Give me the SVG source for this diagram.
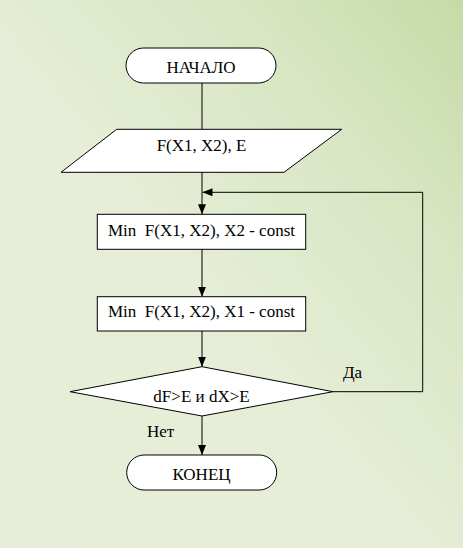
<svg xmlns="http://www.w3.org/2000/svg" width="463" height="548" viewBox="0 0 463 548">
  <defs>
    <linearGradient id="bg" x1="0" y1="1" x2="1" y2="0">
      <stop offset="0" stop-color="#e6eed9"/>
      <stop offset="0.45" stop-color="#e6eed7"/>
      <stop offset="0.75" stop-color="#d8e6c3"/>
      <stop offset="1" stop-color="#c6daa7"/>
    </linearGradient>
    <marker id="arrow" markerUnits="userSpaceOnUse" markerWidth="10" markerHeight="8" refX="10" refY="4" orient="auto">
      <path d="M0,0 L10,4 L0,8 z" fill="#000"/>
    </marker>
    <style>
      .shape { fill: #ffffff; stroke: #000000; stroke-width: 1; }
      .conn { fill: none; stroke: #000000; stroke-width: 1; }
      .txt { font-family: "Liberation Serif", "Times New Roman", "DejaVu Serif", serif; font-size: 17px; fill: #000000; }
    </style>
  </defs>
  <rect x="0" y="0" width="463" height="548" fill="url(#bg)"/>

  <g id="connectors">
    <line class="conn" x1="202" y1="83" x2="202" y2="129.3"/>
    <line class="conn" x1="202" y1="172.3" x2="202" y2="214.3" marker-end="url(#arrow)"/>
    <line class="conn" x1="202" y1="249.3" x2="202" y2="296.7" marker-end="url(#arrow)"/>
    <line class="conn" x1="202" y1="331" x2="202" y2="366.7" marker-end="url(#arrow)"/>
    <line class="conn" x1="202" y1="416" x2="202" y2="455" marker-end="url(#arrow)"/>
    <polyline class="conn" points="333,391.7 422.7,391.7 422.7,192.3 202.5,192.3" marker-end="url(#arrow)"/>
    <text class="txt" x="343" y="378">Да</text>
    <text class="txt" x="147" y="437.3">Нет</text>
  </g>

  <g id="start">
    <rect class="shape" x="126" y="48" width="150" height="35" rx="17.5" ry="17.5"/>
    <text class="txt" x="201" y="73.3" text-anchor="middle">НАЧАЛО</text>
  </g>

  <g id="input">
    <polygon class="shape" points="116.7,129.3 341.7,129.3 284,172.3 61,172.3"/>
    <text class="txt" x="201.5" y="151" text-anchor="middle">F(X1, X2), E</text>
  </g>

  <g id="step1">
    <rect class="shape" x="97.3" y="214.3" width="208.4" height="35"/>
    <text class="txt" x="201.5" y="236" text-anchor="middle" xml:space="preserve">Min  F(X1, X2), X2 - const</text>
  </g>

  <g id="step2">
    <rect class="shape" x="97.3" y="296.7" width="208.4" height="34.3"/>
    <text class="txt" x="201.5" y="317.3" text-anchor="middle" xml:space="preserve">Min  F(X1, X2), X1 - const</text>
  </g>

  <g id="decision">
    <polygon class="shape" points="202,366.7 333,391.7 202,416 70,391.7"/>
    <text class="txt" x="201.5" y="402.3" text-anchor="middle">dF&gt;E и dX&gt;E</text>
  </g>

  <g id="end">
    <rect class="shape" x="126.7" y="455" width="150" height="35" rx="17.5" ry="17.5"/>
    <text class="txt" x="201.5" y="480" text-anchor="middle">КОНЕЦ</text>
  </g>
</svg>
